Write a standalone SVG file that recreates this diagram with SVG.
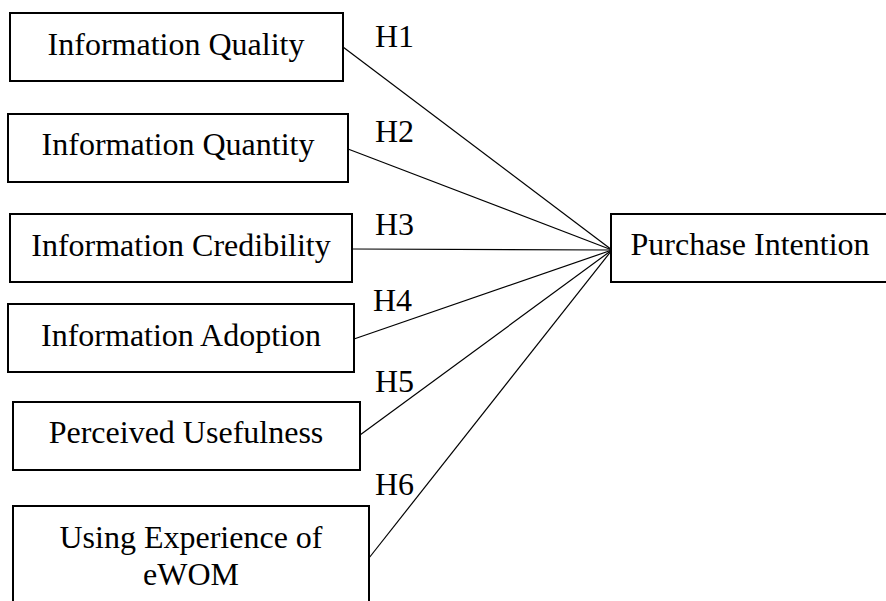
<svg xmlns="http://www.w3.org/2000/svg" width="886" height="601" viewBox="0 0 886 601">
<style>
.box{fill:#fff;stroke:#000;stroke-width:2}
.t{font-family:"Liberation Serif","Times New Roman",serif;font-size:32px;fill:#000}
.c{text-anchor:middle}
.ln{stroke:#000;stroke-width:1.2;fill:none}
</style>
<rect width="886" height="601" fill="#fff"/>
<g id="connectors">
<line class="ln" x1="343" y1="47" x2="612" y2="250"/>
<line class="ln" x1="348" y1="149" x2="612" y2="250"/>
<line class="ln" x1="352" y1="249" x2="612" y2="250"/>
<line class="ln" x1="354" y1="339" x2="612" y2="250"/>
<line class="ln" x1="360" y1="435" x2="612" y2="250"/>
<line class="ln" x1="369" y1="558" x2="612" y2="250"/>
<text class="t" x="375" y="47">H1</text>
<text class="t" x="375" y="142">H2</text>
<text class="t" x="375" y="235">H3</text>
<text class="t" x="373" y="311">H4</text>
<text class="t" x="375" y="392">H5</text>
<text class="t" x="375" y="495">H6</text>
</g>
<g id="n1"><rect class="box" x="10" y="13" width="333" height="68"/><text class="t c" x="176" y="55">Information Quality</text></g>
<g id="n2"><rect class="box" x="8" y="114" width="340" height="68"/><text class="t c" x="178" y="155">Information Quantity</text></g>
<g id="n3"><rect class="box" x="10" y="214" width="342" height="68"/><text class="t c" x="181" y="256">Information Credibility</text></g>
<g id="n4"><rect class="box" x="8" y="304" width="346" height="68"/><text class="t c" x="181" y="346">Information Adoption</text></g>
<g id="n5"><rect class="box" x="13" y="402" width="347" height="68"/><text class="t c" x="186" y="443">Perceived Usefulness</text></g>
<g id="n6"><rect class="box" x="13" y="506" width="356" height="110"/><text class="t c" x="191" y="548">Using Experience of</text><text class="t c" x="191" y="585">eWOM</text></g>
<g id="n7"><rect class="box" x="611" y="214" width="285" height="68"/><text class="t c" x="750" y="255">Purchase Intention</text></g>
</svg>
